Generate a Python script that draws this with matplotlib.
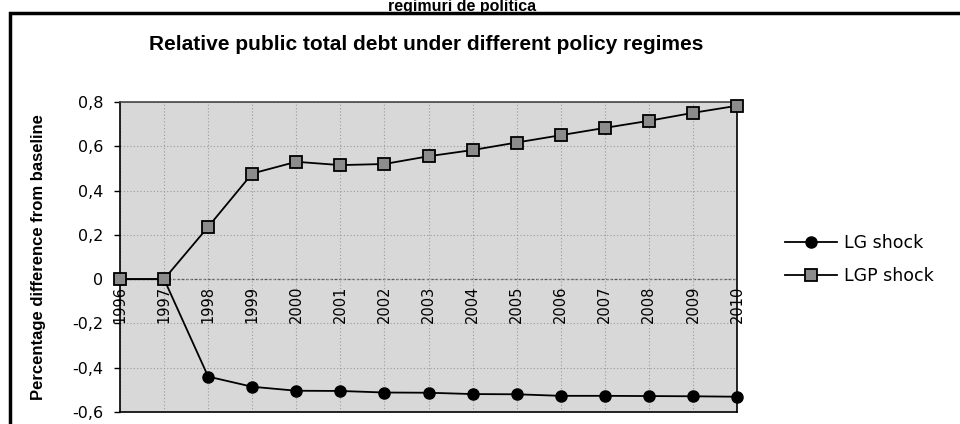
import matplotlib.pyplot as plt
from matplotlib.patches import Rectangle

plt.rcParams['font.family'] = ['Liberation Sans', 'DejaVu Sans']

# data
years = [1996, 1997, 1998, 1999, 2000, 2001, 2002, 2003, 2004, 2005, 2006, 2007, 2008, 2009, 2010]
lg_shock = [0, 0, -0.44, -0.486, -0.504, -0.505, -0.512, -0.513, -0.519, -0.52, -0.527, -0.527, -0.528, -0.529, -0.531]
lgp_shock = [0, 0, 0.236, 0.477, 0.53, 0.515, 0.52, 0.555, 0.583, 0.617, 0.65, 0.683, 0.715, 0.751, 0.783]
yticks = [-0.6, -0.4, -0.2, 0, 0.2, 0.4, 0.6, 0.8]
ytick_labels = ['-0,6', '-0,4', '-0,2', '0', '0,2', '0,4', '0,6', '0,8']

fig = plt.figure(figsize=(9.6, 4.24), dpi=100)
ax = fig.add_axes([120 / 960, 1 - 412 / 424, 617 / 960, 310 / 424])

# outer frame + heading above it
fig.patches.append(Rectangle((10 / 960, -0.05), 1.0, 1 - 13 / 424 + 0.05, transform=fig.transFigure,
                             fill=False, edgecolor='black', linewidth=2.5))
fig.text(462 / 960, 1 - 10.5 / 424, 'regimuri de politica', ha='center', va='baseline',
         fontsize=11.5, fontweight='bold')
fig.text(426 / 960, 1 - 50 / 424, 'Relative public total debt under different policy regimes',
         ha='center', va='baseline', fontsize=15, fontweight='bold')

ax.set_facecolor('#d8d8d8')
ax.grid(True, color='#9a9a9a', linestyle=(0, (1, 2)), linewidth=0.8)
ax.axhline(0, color='#555555', linestyle=(0, (2, 1.5)), linewidth=0.9, zorder=1)

ax.plot(years, lg_shock, color='black', linewidth=1.3, marker='o', markersize=8,
        markerfacecolor='black', label='LG shock', clip_on=False, zorder=3)
ax.plot(years, lgp_shock, color='black', linewidth=1.3, marker='s', markersize=8.5,
        markerfacecolor='#8c8c8c', markeredgecolor='black', markeredgewidth=1.3,
        label='LGP shock', clip_on=False, zorder=3)

ax.set_xlim(years[0], years[-1])
ax.set_ylim(-0.6, 0.8)
ax.set_yticks(yticks)
ax.set_yticklabels(ytick_labels, fontsize=11.5, family='DejaVu Sans')
ax.set_xticks(years)
ax.tick_params(axis='x', length=0, labelbottom=False)
ax.tick_params(axis='y', direction='out', length=4, width=1, pad=8)

# year labels hang just below the zero line
for yr in years:
    ax.text(yr, -0.03, str(yr), rotation=90, ha='center', va='top', fontsize=10.5,
            family='DejaVu Sans', zorder=4)

for side in ['top', 'right', 'left', 'bottom']:
    ax.spines[side].set_linewidth(1.2)
ax.spines['top'].set_color('#444444')

ax.set_ylabel('Percentage difference from baseline', fontsize=12, fontweight='bold')
ax.yaxis.set_label_coords(-74 / 617, 0.5)

ax.legend(loc='upper left', bbox_to_anchor=(785 / 960, 1 - 234 / 424), bbox_transform=fig.transFigure,
          frameon=False, prop={'family': 'DejaVu Sans', 'size': 12.5}, handlelength=3.0,
          handletextpad=0.4, labelspacing=0.85, borderpad=0, borderaxespad=0)

fig.savefig('out.png', dpi=100)
